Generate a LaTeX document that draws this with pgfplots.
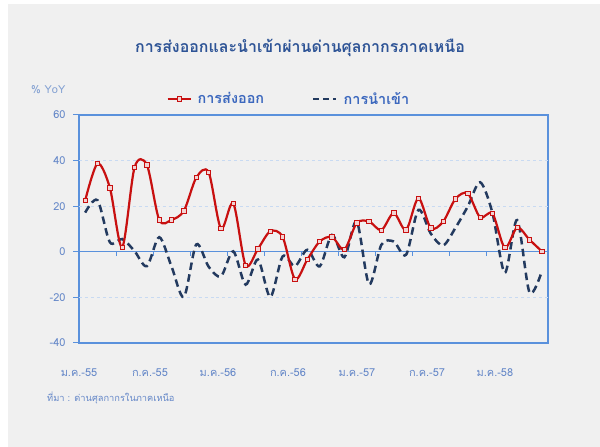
\documentclass[border=0pt]{standalone}
\usepackage{fontspec}
\setmainfont{Liberation Sans}
\newfontfamily\thaifont[Script=Thai]{Loma}
\usepackage{pgfplots}
\pgfplotsset{compat=1.18}
\definecolor{bggray}{RGB}{240,240,240}
\definecolor{titleblue}{RGB}{46,84,150}
\definecolor{legblue}{RGB}{60,104,190}
\definecolor{tickblue}{RGB}{100,135,200}
\definecolor{yoygray}{RGB}{130,160,210}
\definecolor{axisblue}{RGB}{90,145,220}
\definecolor{gridblue}{RGB}{200,218,242}
\definecolor{expred}{RGB}{200,16,16}
\definecolor{markfill}{RGB}{242,210,210}
\definecolor{impnavy}{RGB}{35,58,95}
\pgfplotstableread{
x y
0 22.5
1 38.7
2 28.1
3 2.0
4 37.0
5 38.1
6 14.0
7 14.0
8 18.0
9 32.5
10 34.9
11 10.2
12 21.2
13 -5.9
14 1.3
15 9.0
16 6.5
17 -12.0
18 -3.4
19 4.5
20 6.5
21 1.0
22 12.6
23 13.3
24 9.5
25 17.0
26 9.6
27 23.5
28 10.4
29 13.2
30 23.2
31 25.6
32 15.1
33 16.8
34 1.8
35 10.6
36 5.3
37 0.2
}\exports
\pgfplotstableread{
x y
0 17.2
1 22.6
2 4.2
3 5.6
4 0.3
5 -6.3
6 6.4
7 -6.5
8 -19.8
9 3.2
10 -6.5
11 -10.8
12 0.2
13 -14.4
14 -3.4
15 -19.8
16 -2.0
17 -6.3
18 0.9
19 -6.4
20 7.4
21 -2.4
22 13.3
23 -14.2
24 3.1
25 4.5
26 -1.3
27 18.4
28 8.0
29 2.8
30 10.5
31 19.9
32 30.5
33 17.0
34 -9.2
35 13.9
36 -17.8
37 -8.5
}\imports
\begin{document}
\begin{tikzpicture}[x=1bp,y=1bp]
\path[use as bounding box] (0,0) rectangle (600,447);
\fill[white] (0,0) rectangle (600,447);
\fill[bggray] (8,0) rectangle (600,443);
\node[font=\thaifont\bfseries\fontsize{16}{18}\selectfont, text=titleblue] at (300,399) {การส่งออกและนำเข้าผ่านด่านศุลกากรภาคเหนือ};
\node[anchor=west, font=\thaifont\fontsize{11}{12}\selectfont, text=yoygray, inner sep=0] at (31,357) {\% YoY};
\node[anchor=west, font=\thaifont\fontsize{9.3}{10}\selectfont, text=tickblue, inner sep=0] at (47,49) {ที่มา : ด่านศุลกากรในภาคเหนือ};
\begin{axis}[
  at={(79bp,104bp)}, anchor=south west,
  scale only axis, width=469bp, height=228bp,
  xmin=-0.5, xmax=37.5, ymin=-40, ymax=60,
  axis line style={draw=axisblue, line width=1.2bp},
  ytick={-40,-20,0,20,40,60},
  yticklabels={-40,-20,0,20,40,60},
  ytick pos=left,
  ytick style={draw=axisblue, line width=1bp},
  tick align=outside, major tick length=6bp,
  yticklabel style={font=\thaifont\fontsize{11}{12}\selectfont, text=tickblue, xshift=-4bp},
  extra y ticks={0}, extra y tick labels={},
  extra y tick style={grid=major, major grid style={draw=axisblue, solid, line width=1.3bp}, tick style={draw=none}},
  xtick={-0.5,5.25,10.76,16.43,22.02,27.7,33.2},
  xticklabels={ม.ค.-55,ก.ค.-55,ม.ค.-56,ก.ค.-56,ม.ค.-57,ก.ค.-57,ม.ค.-58},
  xtick style={draw=none},
  xticklabel style={font=\thaifont\fontsize{11}{12}\selectfont, text=tickblue, anchor=center, yshift=-24bp},
  clip=false,
  legend style={at={(0.18,1)}, anchor=west, yshift=16bp, draw=none, fill=none, legend columns=2,
     font=\thaifont\bfseries\fontsize{14.5}{16}\selectfont, text=legblue,
     /tikz/every even column/.append style={column sep=46bp},
     /tikz/every odd column/.append style={column sep=4bp}},
  legend image code/.code={\draw[#1] plot coordinates {(0bp,0bp) (11.5bp,0bp) (23bp,0bp)};},
]
\pgfplotsinvokeforeach{-20,20,40}{
  \draw[gridblue, dashed, line width=0.8bp] (axis cs:-0.5,#1) -- (axis cs:37.5,#1);
}
\pgfplotsinvokeforeach{2.5,5.5,8.5,11.5,14.5,17.5,20.5,23.5,26.5,29.5,32.5,35.5}{
  \draw[axisblue, line width=1bp] (axis cs:#1,0) -- ([yshift=-4bp]axis cs:#1,0);
}
\addlegendimage{expred, line width=2bp, mark=square*, mark size=2.2bp, mark options={solid, fill=markfill, draw=expred, line width=0.8bp}, mark repeat=2, mark phase=2}
\addlegendentry{การส่งออก}
\addlegendimage{impnavy, line width=2.5bp, dash pattern=on 6bp off 4bp}
\addlegendentry{การนำเข้า}
\addplot[forget plot, smooth, impnavy, line width=2.5bp, dash pattern=on 7.5bp off 4.5bp] table {\imports};
\addplot[forget plot, smooth, expred, line width=2.2bp, mark=square*, mark size=2.2bp, mark options={solid, fill=markfill, draw=expred, line width=0.8bp}] table {\exports};
\end{axis}
\end{tikzpicture}
\end{document}
